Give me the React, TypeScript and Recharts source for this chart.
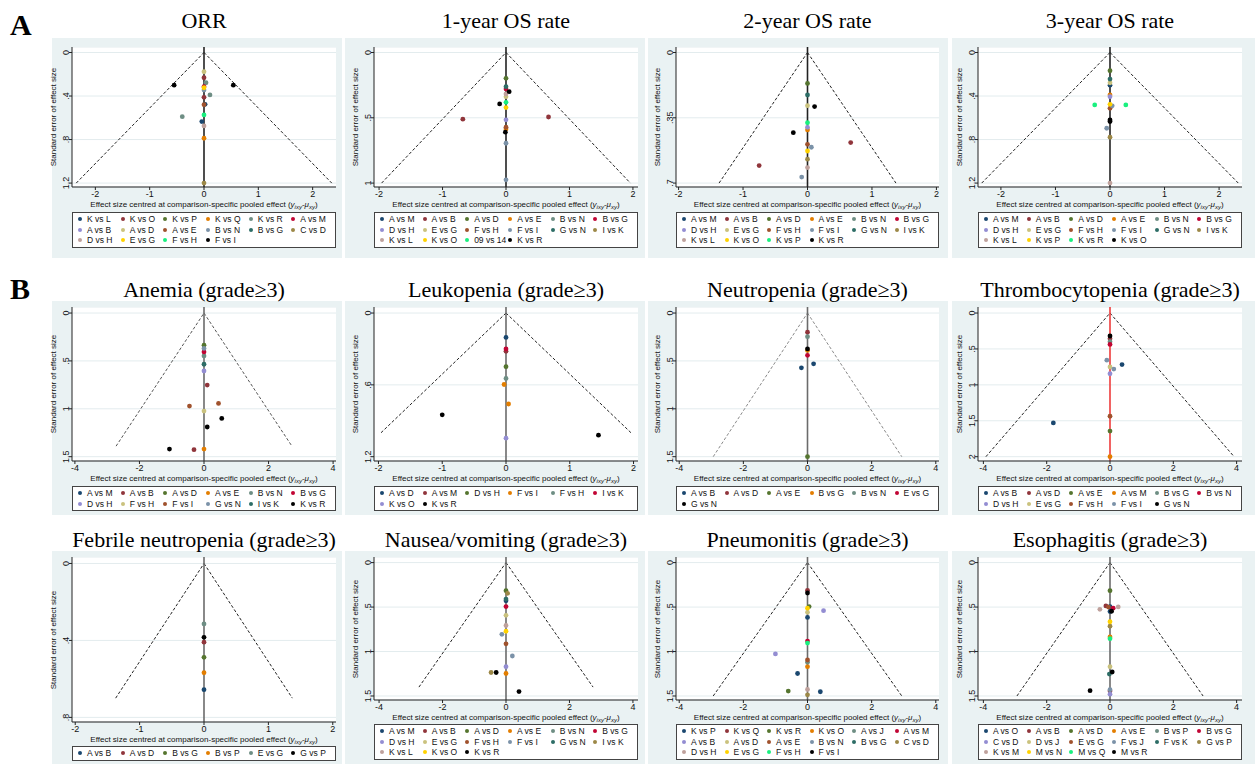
import React from 'react';
import { ScatterChart, Scatter, XAxis, YAxis, CartesianGrid, ReferenceLine } from 'recharts';

// Stata s2color-like marker palette; the last legend entry is always black
const PALETTE = [
  '#1a476f', '#90353b', '#55752f', '#e37e00', '#6e8e84', '#c10534', '#938dd2', '#cac27e',
  '#a0522d', '#7b92a8', '#2d6d66', '#9c8847', '#bfa19c', '#ffd200', '#19f07f', '#000000',
];

// points are [legend index, effect size centred, standard error]
type Pt = [number, number, number];

const orrLegend = ['K vs L', 'K vs O', 'K vs P', 'K vs Q', 'K vs R', 'A vs M', 'A vs B', 'A vs D', 'A vs E', 'B vs N', 'B vs G', 'C vs D', 'D vs H', 'E vs G', 'F vs H', 'F vs I'];
const orrPoints: Pt[] = [
  [7, 0, 0.177], [1, 0, 0.232], [4, 0.037, 0.278], [5, 0, 0.315], [13, 0, 0.324], [9, 0, 0.345],
  [4, 0.11, 0.39], [1, 0, 0.412], [0, 0.02, 0.476], [8, 0, 0.48], [14, 0, 0.574], [4, -0.4, 0.59],
  [0, -0.04, 0.635], [12, 0, 0.675], [3, 0, 0.788], [11, 0, 1.2], [15, -0.55, 0.3], [15, 0.54, 0.3],
];

const os1Legend = ['A vs M', 'A vs B', 'A vs D', 'A vs E', 'B vs N', 'B vs G', 'D vs H', 'E vs G', 'F vs H', 'F vs I', 'G vs N', 'I vs K', 'K vs L', 'K vs O', '09 vs 14', 'K vs R'];
const os1Points: Pt[] = [
  [2, 0, 0.198], [10, 0, 0.262], [5, 0, 0.28], [15, 0.05, 0.3], [12, 0, 0.318], [7, 0, 0.338],
  [14, 0, 0.382], [15, -0.1, 0.394], [13, 0, 0.422], [6, 0, 0.516], [1, -0.68, 0.511], [1, 0.67, 0.494],
  [8, 0, 0.572], [3, 0, 0.585], [15, -0.01, 0.61], [9, 0, 0.695], [9, 0, 0.975],
];

const os2Legend = ['A vs M', 'A vs B', 'A vs D', 'A vs E', 'B vs N', 'B vs G', 'D vs H', 'E vs G', 'F vs H', 'F vs I', 'G vs N', 'I vs K', 'K vs L', 'K vs O', 'K vs P', 'K vs R'];
const os2Points: Pt[] = [
  [2, 0, 0.166], [10, 0, 0.228], [7, 0, 0.285], [15, 0.11, 0.29], [14, 0, 0.376], [6, 0, 0.401],
  [3, 0, 0.415], [15, -0.22, 0.43], [1, 0.67, 0.483], [8, 0, 0.492], [9, 0.06, 0.508], [13, 0, 0.528],
  [11, 0, 0.572], [1, -0.75, 0.606], [12, 0, 0.617], [9, -0.09, 0.668],
];

const os3Legend = ['A vs M', 'A vs B', 'A vs D', 'A vs E', 'B vs N', 'B vs G', 'D vs H', 'E vs G', 'F vs H', 'F vs I', 'G vs N', 'I vs K', 'K vs L', 'K vs P', 'K vs R', 'K vs O'];
const os3Points: Pt[] = [
  [2, 0, 0.168], [10, 0, 0.244], [7, 0, 0.278], [0, 0, 0.3], [3, 0, 0.39], [6, 0, 0.406],
  [14, -0.28, 0.482], [14, 0.29, 0.482], [13, 0, 0.476], [9, 0.04, 0.49], [8, 0, 0.513], [15, 0, 0.62],
  [15, 0, 0.635], [9, -0.06, 0.696], [11, 0, 0.779], [12, 0, 1.2],
];

const anemiaLegend = ['A vs M', 'A vs B', 'A vs D', 'A vs E', 'B vs N', 'B vs G', 'D vs H', 'F vs H', 'F vs I', 'G vs N', 'I vs K', 'K vs R'];
const anemiaPoints: Pt[] = [
  [2, 0, 0.336], [9, 0, 0.37], [5, 0, 0.406], [4, 0, 0.448], [10, 0, 0.535], [6, 0, 0.605],
  [1, 0.1, 0.752], [8, 0.45, 0.944], [8, -0.45, 0.972], [7, 0, 1.024], [11, 0.55, 1.1], [11, 0.1, 1.19],
  [11, -1.07, 1.42], [1, -0.31, 1.427], [3, 0, 1.42],
];

const leukoLegend = ['A vs D', 'A vs M', 'D vs H', 'F vs I', 'F vs H', 'I vs K', 'K vs O', 'K vs R'];
const leukoPoints: Pt[] = [
  [0, 0, 0.204], [5, 0, 0.3], [1, 0, 0.32], [2, 0, 0.448], [4, 0, 0.546], [3, -0.03, 0.597],
  [3, 0.04, 0.76], [7, -1.0, 0.85], [7, 1.45, 1.02], [6, 0, 1.045],
];

const neutroLegend = ['A vs B', 'A vs D', 'A vs E', 'B vs G', 'B vs N', 'E vs G', 'G vs N'];
const neutroPoints: Pt[] = [
  [1, 0, 0.2], [4, 0, 0.247], [6, 0, 0.375], [3, 0, 0.39], [5, 0, 0.442], [0, 0.19, 0.53],
  [0, -0.19, 0.572], [2, 0, 1.5],
];

const thromboLegend = ['A vs B', 'A vs D', 'A vs E', 'A vs M', 'B vs G', 'B vs N', 'D vs H', 'E vs G', 'F vs H', 'F vs I', 'G vs N'];
const thromboPoints: Pt[] = [
  [10, 0, 0.32], [1, 0, 0.357], [4, 0, 0.4], [5, 0, 0.437], [9, -0.1, 0.657], [0, 0.38, 0.718],
  [7, 0, 0.75], [9, 0.12, 0.78], [6, 0, 0.845], [8, 0, 1.437], [0, -1.79, 1.53], [2, 0, 1.643], [3, 0, 2.0],
];

const febrileLegend = ['A vs B', 'A vs D', 'B vs G', 'B vs P', 'E vs G', 'G vs P'];
const febrilePoints: Pt[] = [
  [4, 0, 0.314], [5, 0, 0.384], [1, 0, 0.409], [2, 0, 0.488], [3, 0, 0.568], [0, 0, 0.656],
];

const nauseaLegend = ['A vs M', 'A vs B', 'A vs D', 'A vs E', 'B vs N', 'B vs G', 'D vs H', 'E vs G', 'F vs H', 'F vs I', 'G vs N', 'I vs K', 'K vs L', 'K vs O', 'K vs R'];
const nauseaPoints: Pt[] = [
  [2, 0, 0.316], [11, 0.05, 0.346], [10, 0, 0.41], [0, 0, 0.43], [5, 0, 0.494], [7, 0, 0.593],
  [12, 0, 0.707], [13, 0, 0.772], [9, -0.13, 0.806], [8, 0, 0.913], [9, 0.2, 1.05], [6, 0, 1.17],
  [11, -0.47, 1.236], [14, -0.31, 1.236], [3, 0, 1.247], [14, 0.41, 1.45],
];

const pneumoLegend = ['K vs P', 'K vs Q', 'K vs R', 'K vs O', 'A vs J', 'A vs M', 'A vs B', 'A vs D', 'A vs E', 'B vs N', 'B vs G', 'C vs D', 'D vs H', 'E vs G', 'F vs H', 'F vs I'];
const pneumoPoints: Pt[] = [
  [1, 0, 0.312], [15, 0, 0.342], [2, 0.05, 0.494], [13, 0, 0.513], [7, 0, 0.559], [6, 0.5, 0.54],
  [0, 0, 0.616], [5, 0, 0.882], [14, 0, 0.905], [6, -1.0, 1.027], [8, 0, 1.095], [4, 0, 1.12],
  [3, 0, 1.17], [0, -0.31, 1.247], [2, -0.6, 1.445], [0, 0.4, 1.452], [12, 0, 1.426], [11, 0, 1.487],
];

const esophLegend = ['A vs O', 'A vs B', 'A vs D', 'A vs E', 'B vs P', 'B vs G', 'C vs D', 'D vs J', 'E vs G', 'F vs J', 'F vs K', 'G vs P', 'K vs M', 'M vs N', 'M vs Q', 'M vs R'];
const esophPoints: Pt[] = [
  [2, 0, 0.316], [1, -0.13, 0.487], [0, 0, 0.494], [5, 0.1, 0.513], [12, -0.32, 0.525], [12, 0.26, 0.498],
  [8, -0.05, 0.5], [15, 0.05, 0.547], [0, 0, 0.55], [13, 0, 0.665], [11, 0, 0.715], [3, 0, 0.836],
  [14, 0, 0.855], [7, 0, 1.17], [15, 0.07, 1.23], [10, -0.02, 1.254], [15, -0.63, 1.44], [1, 0, 1.445],
  [9, 0, 1.43], [6, 0, 1.48],
];

const ticks2 = [-2, -1, 0, 1, 2];
const ticks4 = [-4, -2, 0, 2, 4];

// layout of the 4 x 3 grid
const COLS = [
  { bgL: 52, plotL: 72, plotR: 336, bgR: 342 },
  { bgL: 345, plotL: 374, plotR: 638, bgR: 645 },
  { bgL: 648, plotL: 676, plotR: 939, bgR: 948 },
  { bgL: 952, plotL: 978, plotR: 1242, bgR: 1255 },
];
const ROWS = {
  top: { bgT: 38, bgB: 258, plotT: 47, axisY: 187, legT: 212, titleY: 21 },
  mid: { bgT: 301, bgB: 515, plotT: 307, axisY: 461, legT: 486, titleY: 290 },
  bot: { bgT: 551, bgB: 764, plotT: 557, axisY: 700, legT: 724, titleY: 540 },
};

interface PanelCfg {
  title: string;
  col: number;
  row: 'top' | 'mid' | 'bot';
  xMax: number;
  xTicks: number[];
  yTicks: number[];
  funnel: number;
  legend: string[];
  points: Pt[];
  refColor?: string;
  funnelColor?: string;
  axisY?: number;
  legT?: number;
}

const panels: PanelCfg[] = [
  { title: 'ORR', col: 0, row: 'top', xMax: 2.43, xTicks: ticks2, yTicks: [0, 0.4, 0.8, 1.2], funnel: 1.2, legend: orrLegend, points: orrPoints, refColor: '#222' },
  { title: '1-year OS rate', col: 1, row: 'top', xMax: 2.08, xTicks: ticks2, yTicks: [0, 0.5, 1], funnel: 1, legend: os1Legend, points: os1Points, refColor: '#222' },
  { title: '2-year OS rate', col: 2, row: 'top', xMax: 2.04, xTicks: ticks2, yTicks: [0, 0.35, 0.7], funnel: 0.7, legend: os2Legend, points: os2Points, refColor: '#222' },
  { title: '3-year OS rate', col: 3, row: 'top', xMax: 2.42, xTicks: ticks2, yTicks: [0, 0.4, 0.8, 1.2], funnel: 1.2, legend: os3Legend, points: os3Points, refColor: '#222' },
  { title: 'Anemia (grade≥3)', col: 0, row: 'mid', xMax: 4.09, xTicks: ticks4, yTicks: [0, 0.5, 1, 1.5], funnel: 1.39, legend: anemiaLegend, points: anemiaPoints, funnelColor: '#555' },
  { title: 'Leukopenia (grade≥3)', col: 1, row: 'mid', xMax: 2.07, xTicks: ticks2, yTicks: [0, 0.6, 1.2], funnel: 1.0, legend: leukoLegend, points: leukoPoints },
  { title: 'Neutropenia (grade≥3)', col: 2, row: 'mid', xMax: 4.1, xTicks: ticks4, yTicks: [0, 0.5, 1, 1.5], funnel: 1.5, legend: neutroLegend, points: neutroPoints, funnelColor: '#8a8a8a' },
  { title: 'Thrombocytopenia (grade≥3)', col: 3, row: 'mid', xMax: 4.17, xTicks: ticks4, yTicks: [0, 0.5, 1, 1.5, 2], funnel: 2.0, legend: thromboLegend, points: thromboPoints, refColor: '#ee3b3b' },
  { title: 'Febrile neutropenia (grade≥3)', col: 0, row: 'bot', xMax: 2.05, xTicks: ticks2, yTicks: [0, 0.4, 0.8], funnel: 0.7, legend: febrileLegend, points: febrilePoints, axisY: 722, legT: 746 },
  { title: 'Nausea/vomiting (grade≥3)', col: 1, row: 'bot', xMax: 4.16, xTicks: ticks4, yTicks: [0, 0.5, 1, 1.5], funnel: 1.4, legend: nauseaLegend, points: nauseaPoints },
  { title: 'Pneumonitis (grade≥3)', col: 2, row: 'bot', xMax: 4.1, xTicks: ticks4, yTicks: [0, 0.5, 1, 1.5], funnel: 1.5, legend: pneumoLegend, points: pneumoPoints },
  { title: 'Esophagitis (grade≥3)', col: 3, row: 'bot', xMax: 4.17, xTicks: ticks4, yTicks: [0, 0.5, 1, 1.5], funnel: 1.5, legend: esophLegend, points: esophPoints },
];

const SANS = '"Liberation Sans", Arial, sans-serif';
const SERIF = '"Liberation Serif", "Times New Roman", serif';

function fmtSE(v: number) {
  if (v === 0) return '0';
  return String(v).replace(/^0\./, '.');
}

function YTick(props: any) {
  const { x, y, payload } = props;
  return (
    <text x={x} y={y} transform={`rotate(-90 ${x} ${y})`} textAnchor="middle" fontSize={9} fontFamily={SANS} fill="#111">
      {fmtSE(payload.value)}
    </text>
  );
}

function FunnelPanel({ cfg }: { cfg: PanelCfg }) {
  const c = COLS[cfg.col];
  const r = ROWS[cfg.row];
  const axisY = cfg.axisY ?? r.axisY;
  const legT = cfg.legT ?? r.legT;
  const top = cfg.yTicks[cfg.yTicks.length - 1];
  const plotH = axisY - r.plotT;
  const xAxisH = 16;
  const n = cfg.legend.length;
  const colorOf = (i: number) => (i === n - 1 ? '#000000' : PALETTE[i]);
  const series = cfg.legend.map((label, i) => ({
    label,
    color: colorOf(i),
    data: cfg.points.filter((p) => p[0] === i).map((p) => ({ x: p[1], y: p[2] })),
  }));
  const limX = 1.96 * cfg.funnel;
  const funnelStroke = cfg.funnelColor ?? '#222';
  const plotCx = (c.plotL + c.plotR) / 2;

  return (
    <>
      <div style={{ position: 'absolute', left: c.bgL, top: r.bgT, width: c.bgR - c.bgL, height: r.bgB - r.bgT, background: '#eaf2f3' }} />
      <div style={{ position: 'absolute', left: plotCx - 160, width: 320, top: r.titleY - 14, lineHeight: '28px', textAlign: 'center', fontFamily: SERIF, fontSize: 22, color: '#000', whiteSpace: 'nowrap' }}>
        {cfg.title}
      </div>
      <div style={{ position: 'absolute', left: c.bgL, top: r.plotT }}>
        <ScatterChart width={c.bgR - c.bgL} height={plotH + xAxisH} margin={{ top: 0, right: c.bgR - c.plotR, bottom: 0, left: 0 }}>
          <CartesianGrid vertical={false} stroke="#e3ecee" fill="#ffffff" />
          <XAxis
            type="number"
            dataKey="x"
            domain={[-cfg.xMax, cfg.xMax]}
            ticks={cfg.xTicks}
            interval={0}
            allowDataOverflow
            height={xAxisH}
            tickSize={3}
            tickMargin={1}
            tick={{ fontSize: 9, fontFamily: SANS, fill: '#111' }}
            stroke="#222"
          />
          <YAxis
            type="number"
            dataKey="y"
            reversed
            domain={[-0.042 * top, top * 1.03]}
            ticks={cfg.yTicks}
            interval={0}
            allowDataOverflow
            width={c.plotL - c.bgL}
            tickSize={3}
            tickMargin={0}
            tick={<YTick />}
            stroke="#222"
          />
          <ReferenceLine segment={[{ x: -limX, y: cfg.funnel }, { x: 0, y: 0 }]} stroke={funnelStroke} strokeDasharray="3 2" strokeWidth={1} />
          <ReferenceLine segment={[{ x: 0, y: 0 }, { x: limX, y: cfg.funnel }]} stroke={funnelStroke} strokeDasharray="3 2" strokeWidth={1} />
          <ReferenceLine x={0} stroke={cfg.refColor ?? '#6b6b6b'} strokeWidth={1.6} />
          {series.map((s) => (
            <Scatter
              key={s.label}
              name={s.label}
              data={s.data}
              fill={s.color}
              isAnimationActive={false}
              shape={(p: any) => <circle cx={p.cx} cy={p.cy} r={2.4} fill={s.color} />}
            />
          ))}
        </ScatterChart>
      </div>
      {/* y axis title */}
      <div
        style={{
          position: 'absolute', left: c.plotL - 18, top: r.plotT + plotH / 2, width: plotH, textAlign: 'center',
          transform: 'translate(-50%, -50%) rotate(-90deg)', fontFamily: SANS, fontSize: 8, lineHeight: '10px', color: '#111', whiteSpace: 'nowrap',
        }}
      >
        Standard error of effect size
      </div>
      {/* x axis title */}
      <div
        style={{
          position: 'absolute', left: plotCx - 150, width: 300, top: axisY + 12, textAlign: 'center', fontFamily: SANS,
          fontSize: 8, lineHeight: '11px', color: '#111', whiteSpace: 'nowrap',
        }}
      >
        Effect size centred at comparison-specific pooled effect (<i>y</i>
        <sub style={{ fontSize: 6, verticalAlign: '-2px' }}><i>ixy</i></sub>-<i>μ</i>
        <sub style={{ fontSize: 6, verticalAlign: '-2px' }}><i>xy</i></sub>)
      </div>
      {/* legend */}
      <div
        style={{
          position: 'absolute', left: c.plotL, top: legT, width: c.plotR - c.plotL, boxSizing: 'border-box',
          border: '1px solid #444', background: '#fff', padding: '1px 3px', display: 'grid',
          gridTemplateColumns: 'repeat(6, 1fr)', fontFamily: SANS, fontSize: 8.5, lineHeight: '10.5px', color: '#111',
        }}
      >
        {series.map((s) => (
          <div key={s.label} style={{ display: 'flex', alignItems: 'center', whiteSpace: 'nowrap' }}>
            <span style={{ display: 'inline-block', width: 4, height: 4, borderRadius: 2, background: s.color, margin: '0 5px 0 2px' }} />
            {s.label}
          </div>
        ))}
      </div>
    </>
  );
}

export default function App() {
  return (
    <div style={{ position: 'absolute', left: 0, top: 0, width: 1255, height: 764, background: '#fff', overflow: 'hidden' }}>
      <div style={{ position: 'absolute', left: 10, top: 8, fontFamily: SERIF, fontWeight: 'bold', fontSize: 30, lineHeight: '34px' }}>A</div>
      <div style={{ position: 'absolute', left: 10, top: 272, fontFamily: SERIF, fontWeight: 'bold', fontSize: 30, lineHeight: '34px' }}>B</div>
      {panels.map((p) => (
        <FunnelPanel key={p.title} cfg={p} />
      ))}
    </div>
  );
}
